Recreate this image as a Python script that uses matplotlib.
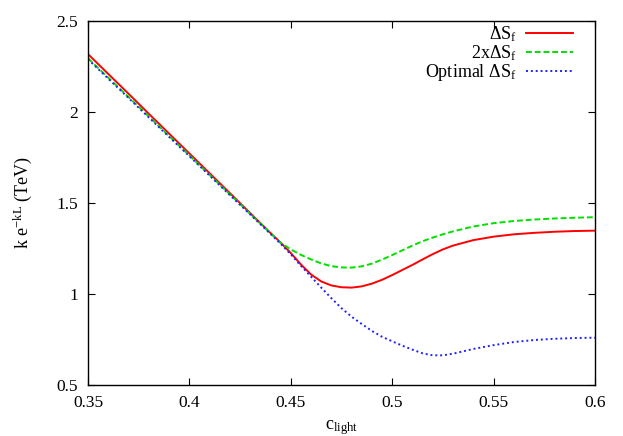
import matplotlib
matplotlib.use("Agg")
import matplotlib.pyplot as plt

plt.rcParams["font.family"] = ["Liberation Serif", "DejaVu Serif"]
plt.rcParams["mathtext.fontset"] = "custom"
plt.rcParams["mathtext.rm"] = "Liberation Serif"
plt.rcParams["mathtext.it"] = "Liberation Serif:italic"

# c_light sample points
c_light = [0.35, 0.36, 0.37, 0.38, 0.39, 0.40, 0.41, 0.42, 0.43, 0.44, 0.445,
           0.45, 0.455, 0.46, 0.465, 0.47, 0.475, 0.48, 0.485, 0.49, 0.495,
           0.50, 0.505, 0.51, 0.515, 0.52, 0.525, 0.53, 0.54, 0.55, 0.56,
           0.57, 0.58, 0.59, 0.60]

delta_sf = [2.318, 2.209, 2.100, 1.990, 1.881, 1.772, 1.663, 1.554, 1.444, 1.335, 1.282,
            1.225, 1.162, 1.107, 1.069, 1.047, 1.037, 1.035, 1.042, 1.057, 1.078,
            1.104, 1.132, 1.160, 1.190, 1.219, 1.245, 1.266, 1.296, 1.315, 1.328,
            1.336, 1.342, 1.346, 1.348]

two_delta_sf = [2.295, 2.188, 2.082, 1.975, 1.868, 1.761, 1.654, 1.547, 1.440, 1.334, 1.281,
                1.245, 1.215, 1.190, 1.168, 1.153, 1.146, 1.145, 1.152, 1.167, 1.189,
                1.214, 1.240, 1.266, 1.290, 1.310, 1.328, 1.344, 1.371, 1.389, 1.401,
                1.409, 1.415, 1.419, 1.422]

optimal_sf = [2.290, 2.183, 2.077, 1.970, 1.863, 1.757, 1.650, 1.543, 1.437, 1.330, 1.276,
              1.218, 1.155, 1.095, 1.035, 0.977, 0.922, 0.875, 0.835, 0.797, 0.765,
              0.740, 0.716, 0.694, 0.674, 0.663, 0.663, 0.672, 0.698, 0.719, 0.736,
              0.747, 0.754, 0.758, 0.760]

xticks = [0.35, 0.4, 0.45, 0.5, 0.55, 0.6]
yticks = [0.5, 1.0, 1.5, 2.0, 2.5]

fig = plt.figure(figsize=(6.23, 4.36), dpi=100)
ax = fig.add_axes([0.1413, 0.117, 0.8137, 0.8348])

ax.plot(c_light, delta_sf, color="#ff0000", lw=1.4, ls="-",
        label=r"$\Delta$S$_{\mathrm{f}}$")
ax.plot(c_light, two_delta_sf, color="#00e000", lw=1.4, ls=(0, (3, 1.5)),
        label=r"2x$\Delta$S$_{\mathrm{f}}$")
ax.plot(c_light, optimal_sf, color="#2020ff", lw=1.4, ls=(0, (1, 1.5)),
        label=r"Optimal $\Delta$S$_{\mathrm{f}}$")

ax.set_xlim(0.35, 0.6)
ax.set_ylim(0.5, 2.5)
ax.set_xticks(xticks)
ax.set_xticklabels(["0.35", "0.4", "0.45", "0.5", "0.55", "0.6"])
ax.set_yticks(yticks)
ax.set_yticklabels(["0.5", "1", "1.5", "2", "2.5"])
ax.tick_params(direction="in", top=True, right=True, length=5, width=0.8,
               labelsize=12.5, pad=7)
for s in ax.spines.values():
    s.set_linewidth(1.0)

ax.set_xlabel(r"c$_{\mathrm{light}}$", fontsize=13, labelpad=5)
ax.set_ylabel(r"k e$^{\mathrm{-kL}}$ (TeV)", fontsize=13, labelpad=16)

ax.legend(loc="upper right", frameon=False, markerfirst=False, fontsize=13,
          handlelength=2.6, handletextpad=0.5, labelspacing=-0.05,
          borderaxespad=0.0, bbox_to_anchor=(0.97, 1.01))

fig.savefig("out.png", dpi=100)
